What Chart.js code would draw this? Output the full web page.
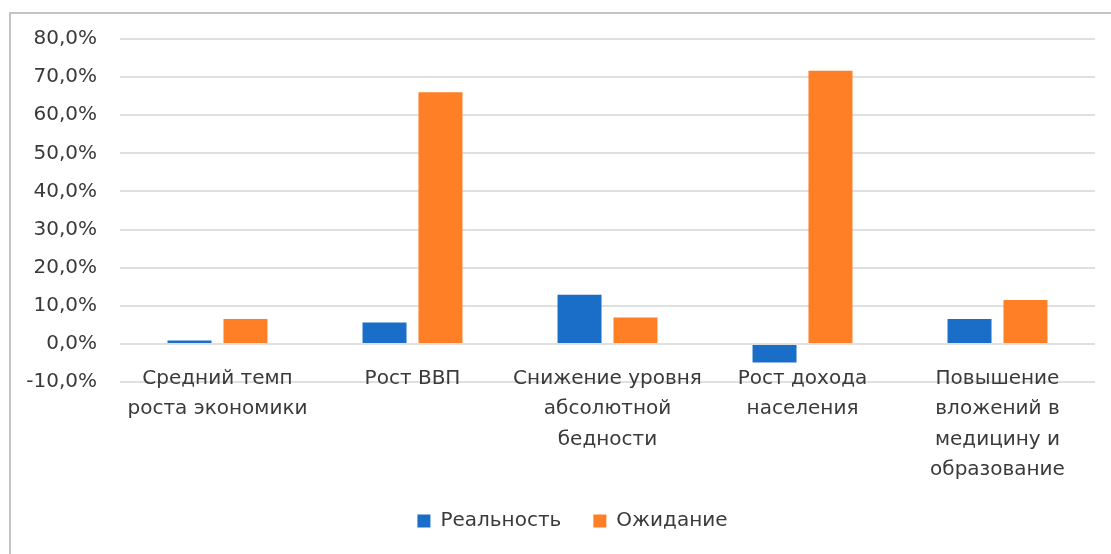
<!DOCTYPE html>
<html>
<head>
<meta charset="utf-8">
<script src="https://cdn.jsdelivr.net/npm/chart.js@4"></script>
<style>
  html, body { margin: 0; padding: 0; background: #fff; overflow: hidden; }
  #frame {
    position: absolute; left: 9px; top: 12px; width: 1200px; height: 700px;
    border-left: 2px solid #c4c4c4; border-top: 2px solid #c4c4c4;
  }
  #wrap { position: absolute; left: 0; top: 0; width: 1111px; height: 554px; }
</style>
</head>
<body>
<div id="frame"></div>
<div id="wrap"><canvas id="chart"></canvas></div>
<script>
// ── Data ────────────────────────────────────────────────────────────────
const categories = [
  ['Средний темп', 'роста экономики'],
  ['Рост ВВП'],
  ['Снижение уровня', 'абсолютной', 'бедности'],
  ['Рост дохода', 'населения'],
  ['Повышение', 'вложений в', 'медицину и', 'образование'],
];
const realityValues = [0.9, 5.6, 12.9, -4.9, 6.5];
const expectationValues = [6.5, 66.0, 6.9, 71.7, 11.5];
const yMin = -10;
const yMax = 80;
const yStep = 10;

// ── Styles ──────────────────────────────────────────────────────────────
const FONT = { family: '"DejaVu Sans", sans-serif', size: 20 };
const CAT_FONT = { family: '"DejaVu Sans", sans-serif', size: 20, lineHeight: 1.53 };
const TEXT = '#3a3a3a';

// legend in the original sits a little right of the canvas centre
const legendShift = {
  id: 'legendShift',
  afterLayout(chart) {
    if (!chart.legend) return;
    chart.legend.left += 25;
    chart.legend.right += 25;
  },
};

const chart = new Chart(document.getElementById('chart'), {
  type: 'bar',
  data: {
    labels: categories,
    datasets: [
      {
        label: 'Реальность',
        data: realityValues,
        backgroundColor: '#1a6ec8',
        categoryPercentage: 0.574,
        barPercentage: 0.786,
      },
      {
        label: 'Ожидание',
        data: expectationValues,
        backgroundColor: '#fe7f26',
        categoryPercentage: 0.574,
        barPercentage: 0.786,
      },
    ],
  },
  options: {
    responsive: true,
    maintainAspectRatio: false,
    animation: false,
    layout: { padding: { left: 0, right: 16, top: 39, bottom: 13 } },
    plugins: {
      tooltip: { enabled: false },
      legend: {
        position: 'bottom',
        labels: {
          font: FONT,
          color: TEXT,
          boxWidth: 13,
          boxHeight: 13,
          padding: 32,
        },
      },
    },
    scales: {
      // main category axis: only reserves room under the plot
      x: {
        position: 'bottom',
        grid: { display: false },
        border: { display: false },
        ticks: { display: false },
        afterFit: (scale) => { scale.height = 97; },
      },
      // label axis pinned to the -10% line, so the labels overlap the plot like in Excel
      xLabels: {
        type: 'category',
        axis: 'x',
        labels: categories,
        offset: true,
        position: { y: yMin },
        grid: { display: false },
        border: { display: false },
        ticks: { font: CAT_FONT, color: TEXT, padding: -27, maxRotation: 0, autoSkip: false },
        afterFit: (scale) => { scale.height = 0; },
      },
      y: {
        min: yMin,
        max: yMax,
        grid: { color: '#e0e0e0', lineWidth: 2, drawTicks: false },
        border: { display: false },
        ticks: {
          stepSize: yStep,
          font: FONT,
          color: TEXT,
          padding: 23,
          callback: (v) => v.toFixed(1).replace('.', ',') + '%',
        },
        afterFit: (scale) => { scale.width = 120; },
      },
    },
  },
  plugins: [legendShift],
});
</script>
</body>
</html>
